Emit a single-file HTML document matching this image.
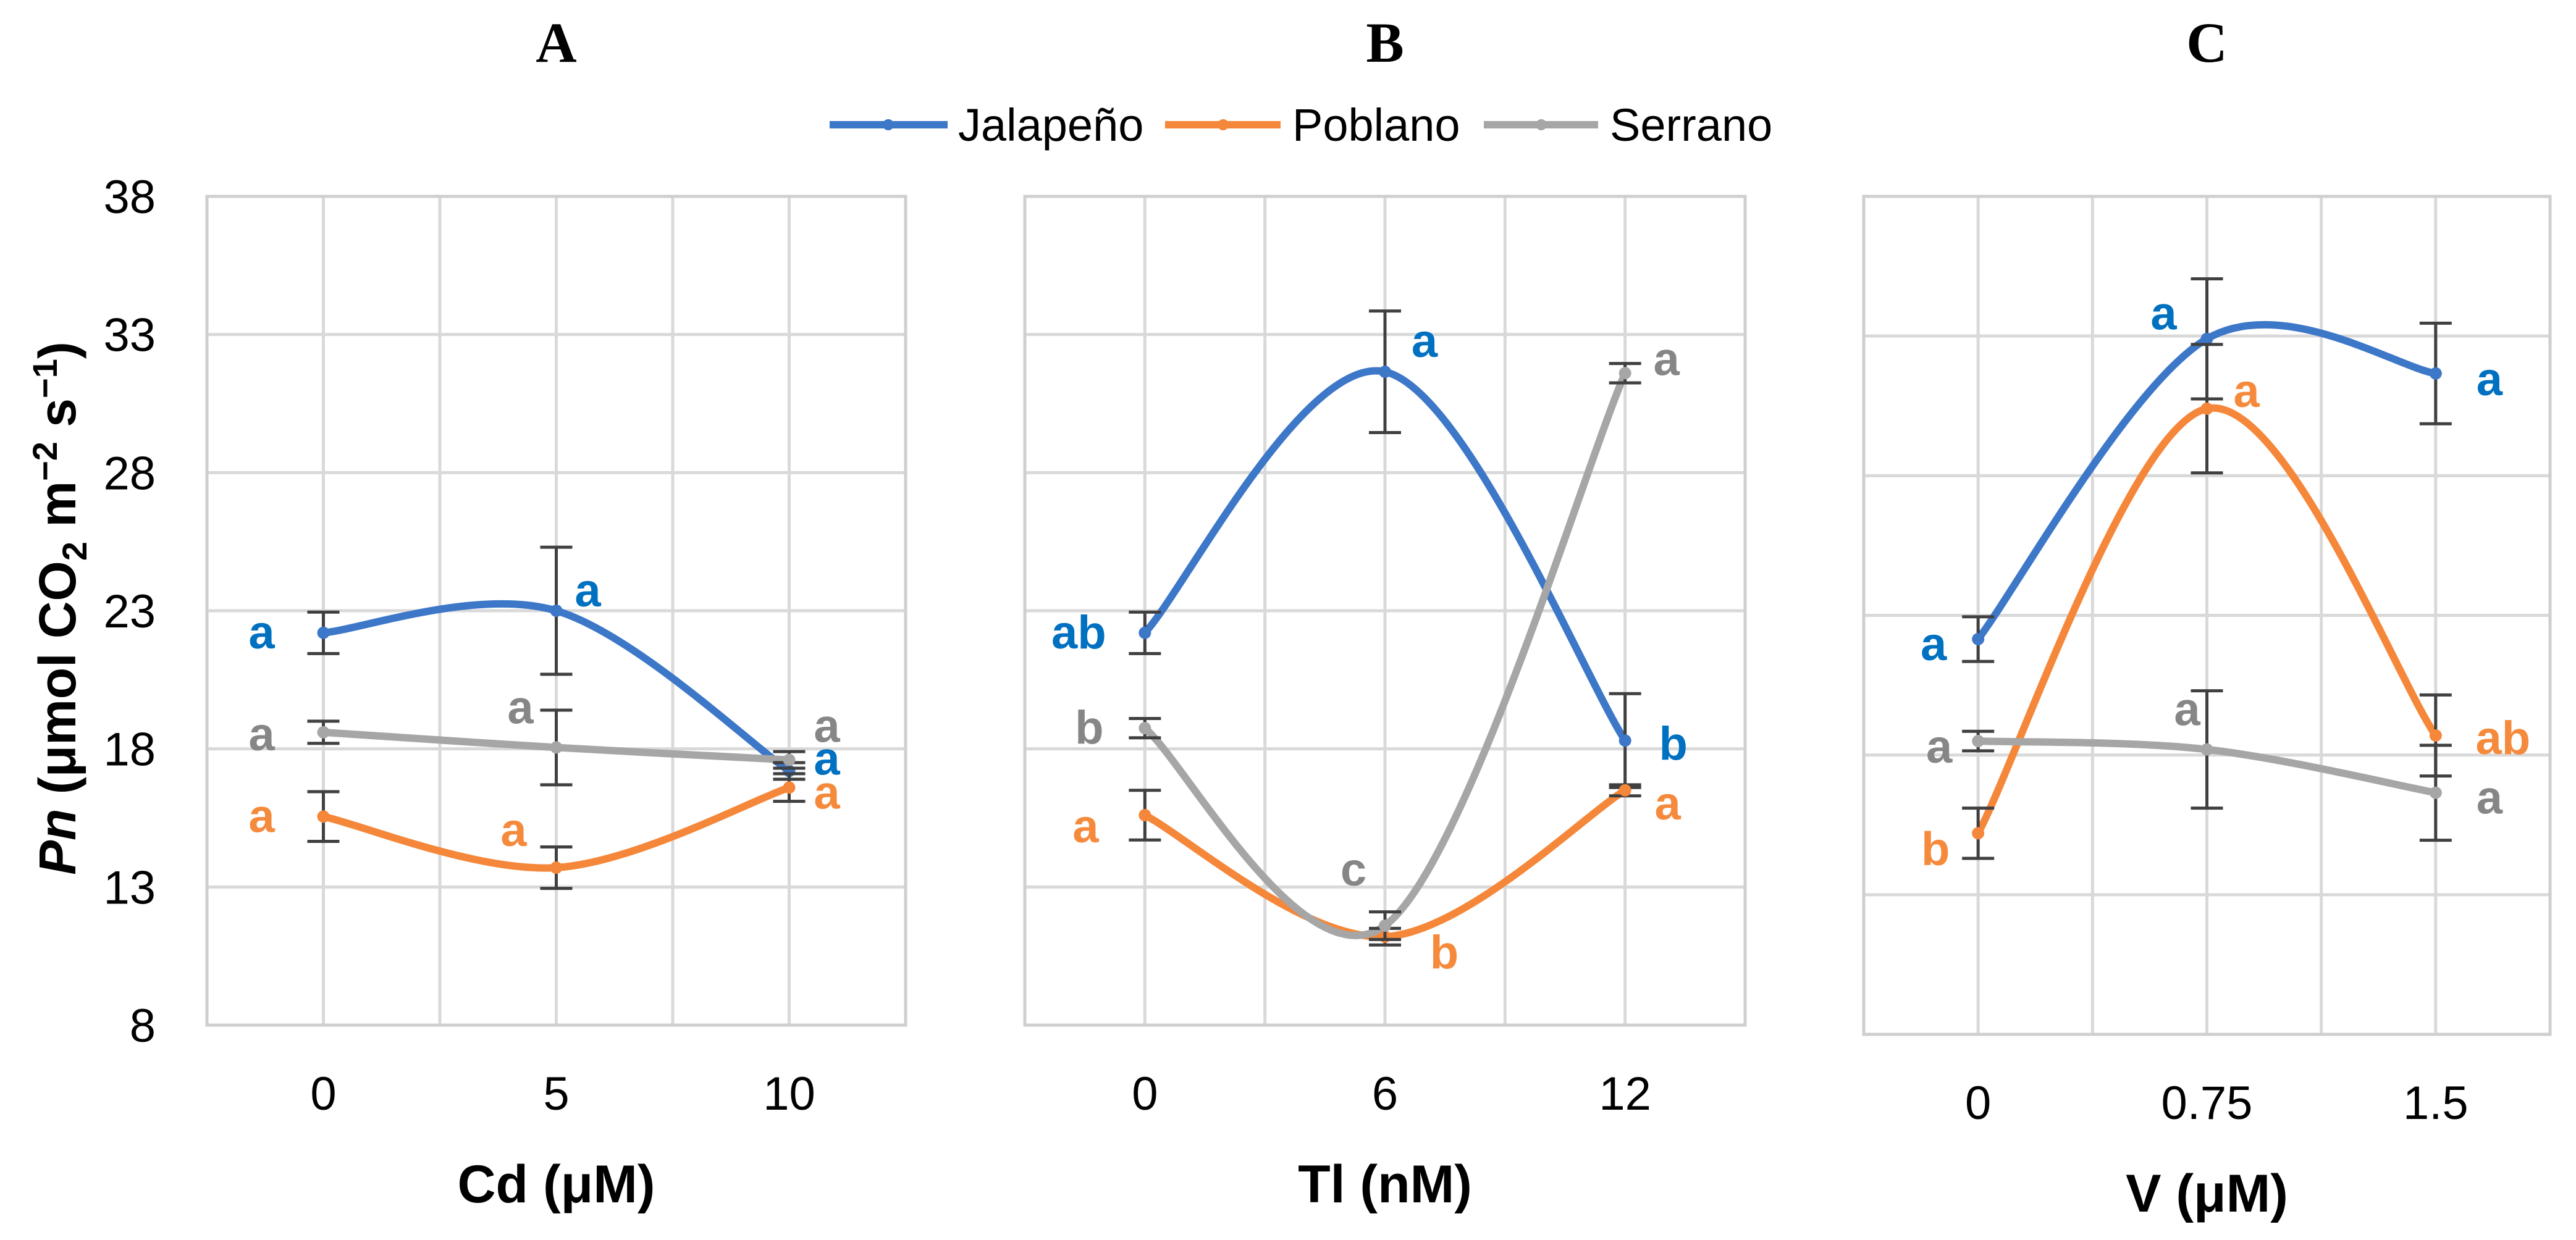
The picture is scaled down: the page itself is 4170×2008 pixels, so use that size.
<!DOCTYPE html>
<html><head><meta charset="utf-8"><style>
html,body{margin:0;padding:0;background:#fff;}
svg{display:block;}
</style></head><body>
<svg id="chart" width="4170" height="2008" viewBox="0 0 4170 2008" xmlns="http://www.w3.org/2000/svg" font-family="'Liberation Sans', sans-serif">
<g>
  <line x1="1343" y1="202" x2="1534" y2="202" stroke="#3d77c8" stroke-width="12"/>
  <circle cx="1438" cy="202" r="9" fill="#3d77c8"/>
  <text x="1551" y="228" font-size="74" fill="#000">Jalapeño</text>
  <line x1="1886" y1="202" x2="2073" y2="202" stroke="#f5873a" stroke-width="12"/>
  <circle cx="1980" cy="202" r="9" fill="#f5873a"/>
  <text x="2092" y="228" font-size="74" fill="#000">Poblano</text>
  <line x1="2402" y1="202" x2="2587" y2="202" stroke="#a6a6a6" stroke-width="12"/>
  <circle cx="2495" cy="202" r="9" fill="#a6a6a6"/>
  <text x="2606" y="228" font-size="74" fill="#000">Serrano</text>
</g>
<text transform="translate(122,985) rotate(-90)" text-anchor="middle" font-size="84" font-weight="bold" fill="#000"><tspan font-style="italic">Pn</tspan> (μmol CO<tspan font-size="56" dy="18">2</tspan><tspan dy="-18"> m</tspan><tspan font-size="56" dy="-30">−2</tspan><tspan dy="30"> s</tspan><tspan font-size="56" dy="-30">−1</tspan><tspan dy="30">)</tspan></text>
</svg>
<script>
// ---- data ----
var categoriesA = ["0", "5", "10"];
var categoriesB = ["0", "6", "12"];
var categoriesC = ["0", "0.75", "1.5"];
var yTicks = [8, 13, 18, 23, 28, 33, 38];

var jalA = [22.2, 23.0, 17.2];
var jalAErr = [0.75, 2.3, 0.3];
var pobA = [15.55, 13.7, 16.6];
var pobAErr = [0.9, 0.75, 0.5];
var serA = [18.6, 18.05, 17.6];
var serAErr = [0.4, 1.35, 0.3];

var jalB = [22.2, 31.65, 18.3];
var jalBErr = [0.75, 2.2, 1.7];
var pobB = [15.6, 11.2, 16.5];
var pobBErr = [0.9, 0.3, 0.2];
var serB = [18.75, 11.6, 31.6];
var serBErr = [0.35, 0.5, 0.35];

var jalC = [22.15, 32.9, 31.66];
var jalCErr = [0.8, 2.15, 1.8];
var pobC = [15.2, 30.4, 18.7];
var pobCErr = [0.9, 2.3, 1.45];
var serC = [18.5, 18.2, 16.65];
var serCErr = [0.35, 2.1, 1.7];

var lettersJalA = ["a", "a", "a"], lettersPobA = ["a", "a", "a"], lettersSerA = ["a", "a", "a"];
var lettersJalB = ["ab", "a", "b"], lettersPobB = ["a", "b", "a"], lettersSerB = ["b", "c", "a"];
var lettersJalC = ["a", "a", "a"], lettersPobC = ["b", "a", "ab"], lettersSerC = ["a", "a", "a"];

// ---- layout (styling, not data) ----
var NS = "http://www.w3.org/2000/svg";
var svg = document.getElementById("chart");
var COLORS = {jal: "#3d77c8", pob: "#f5873a", ser: "#a6a6a6"};
var LABEL_COLORS = {jal: "#0070c0", pob: "#f58a3c", ser: "#868686"};
var panels = [
  {id: "a", title: "A", left: 335, right: 1466, top: 318, bottom: 1660, cats: categoriesA, xTitle: "Cd (μM)", showY: true,
   series: [
     {k: "jal", v: jalA, e: jalAErr, l: lettersJalA, off: [[-100, 0], [51, -32], [61, -19]]},
     {k: "pob", v: pobA, e: pobAErr, l: lettersPobA, off: [[-100, 0], [-69, -60], [61, 9]]},
     {k: "ser", v: serA, e: serAErr, l: lettersSerA, off: [[-100, 4], [-58, -64], [61, -54]]}]},
  {id: "b", title: "B", left: 1659, right: 2825, top: 318, bottom: 1660, cats: categoriesB, xTitle: "Tl (nM)", showY: false,
   series: [
     {k: "jal", v: jalB, e: jalBErr, l: lettersJalB, off: [[-107, 0], [64, -49], [78, 6]]},
     {k: "pob", v: pobB, e: pobBErr, l: lettersPobB, off: [[-96, 19], [96, 26], [69, 22]]},
     {k: "ser", v: serB, e: serBErr, l: lettersSerB, off: [[-90, 0], [-51, -90], [67, -22]]}]},
  {id: "c", title: "C", left: 3017, right: 4128, top: 318, bottom: 1675, cats: categoriesC, xTitle: "V (μM)", showY: false,
   series: [
     {k: "jal", v: jalC, e: jalCErr, l: lettersJalC, off: [[-72, 9], [-70, -40], [87, 10]]},
     {k: "pob", v: pobC, e: pobCErr, l: lettersPobC, off: [[-69, 26], [64, -28], [109, 5]]},
     {k: "ser", v: serC, e: serCErr, l: lettersSerC, off: [[-63, 10], [-32, -64], [87, 9]]}]}
];

function mk(tag, attrs, parent) {
  var el = document.createElementNS(NS, tag);
  for (var a in attrs) el.setAttribute(a, attrs[a]);
  parent.appendChild(el);
  return el;
}

panels.forEach(function (p) {
  var g = mk("g", {}, svg);
  
  
  var n = p.cats.length;
  var step = (p.right - p.left) / n;
  var yMin = yTicks[0], yMax = yTicks[yTicks.length - 1];
  function xs(i) { return p.left + step * (i + 0.5); }
  function ys(v) { return p.bottom - (v - yMin) / (yMax - yMin) * (p.bottom - p.top); }

  for (var j = 0; j <= 2 * n; j++) {
    var gx = p.left + j * step / 2;
    var vl = mk("line", {x1: gx, y1: p.top, x2: gx, y2: p.bottom, stroke: "#d9d9d9", "stroke-width": 5}, g);
    
    
  }
  yTicks.forEach(function (t) {
    var hl = mk("line", {x1: p.left, y1: ys(t), x2: p.right, y2: ys(t), stroke: "#d9d9d9", "stroke-width": 5}, g);
    
    
    if (p.showY) {
      var tl = mk("text", {x: 252, y: ys(t) + 27, "text-anchor": "end", "font-size": 76, fill: "#000"}, g);
      tl.textContent = String(t);
      
      
    }
  });
  var fr = mk("rect", {x: p.left, y: p.top, width: p.right - p.left, height: p.bottom - p.top, fill: "none", stroke: "#cfcfcf", "stroke-width": 5}, g);
  
  

  p.cats.forEach(function (c, i) {
    var xl = mk("text", {x: xs(i), y: p.bottom + 137, "text-anchor": "middle", "font-size": 76, fill: "#000"}, g);
    xl.textContent = c;
    
    
  });
  var xt = mk("text", {x: (p.left + p.right) / 2, y: p.bottom + 287, "text-anchor": "middle", "font-size": 86, "font-weight": "bold", fill: "#000"}, g);
  xt.textContent = p.xTitle;
  
  
  var tt = mk("text", {x: (p.left + p.right) / 2, y: 100, "text-anchor": "middle", "font-size": 92, "font-weight": "bold", "font-family": "'Liberation Serif', serif", fill: "#000"}, g);
  tt.textContent = p.title;
  
  

  p.series.forEach(function (s) {
    var pts = s.v.map(function (v, i) { return [xs(i), ys(v)]; });
    var d = "M" + pts[0][0] + "," + pts[0][1];
    for (var i = 0; i < pts.length - 1; i++) {
      var p0 = pts[Math.max(i - 1, 0)], p1 = pts[i], p2 = pts[i + 1], p3 = pts[Math.min(i + 2, pts.length - 1)];
      var c1x = p1[0] + (p2[0] - p0[0]) / 6, c1y = p1[1] + (p2[1] - p0[1]) / 6;
      var c2x = p2[0] - (p3[0] - p1[0]) / 6, c2y = p2[1] - (p3[1] - p1[1]) / 6;
      d += " C" + c1x + "," + c1y + " " + c2x + "," + c2y + " " + p2[0] + "," + p2[1];
    }
    var path = mk("path", {d: d, fill: "none", stroke: COLORS[s.k], "stroke-width": 12, "stroke-linecap": "round"}, g);
    
    
  });
  p.series.forEach(function (s) {
    s.v.forEach(function (v, i) {
      var x = xs(i), yt = ys(v + s.e[i]), yb = ys(v - s.e[i]);
      var eb = mk("path", {d: "M" + x + "," + yt + "V" + yb + "M" + (x - 26) + "," + yt + "H" + (x + 26) + "M" + (x - 26) + "," + yb + "H" + (x + 26), stroke: "#404040", "stroke-width": 5, fill: "none"}, g);
      
      
      var pt = mk("circle", {cx: x, cy: ys(v), r: 10, fill: COLORS[s.k]}, g);
      
      
      var lt = mk("text", {x: x + s.off[i][0], y: ys(v) + s.off[i][1] + 25, "text-anchor": "middle", "font-size": 76, "font-weight": "bold", fill: LABEL_COLORS[s.k]}, g);
      lt.textContent = s.l[i];
      
      
    });
  });
});
</script>
</body></html>
